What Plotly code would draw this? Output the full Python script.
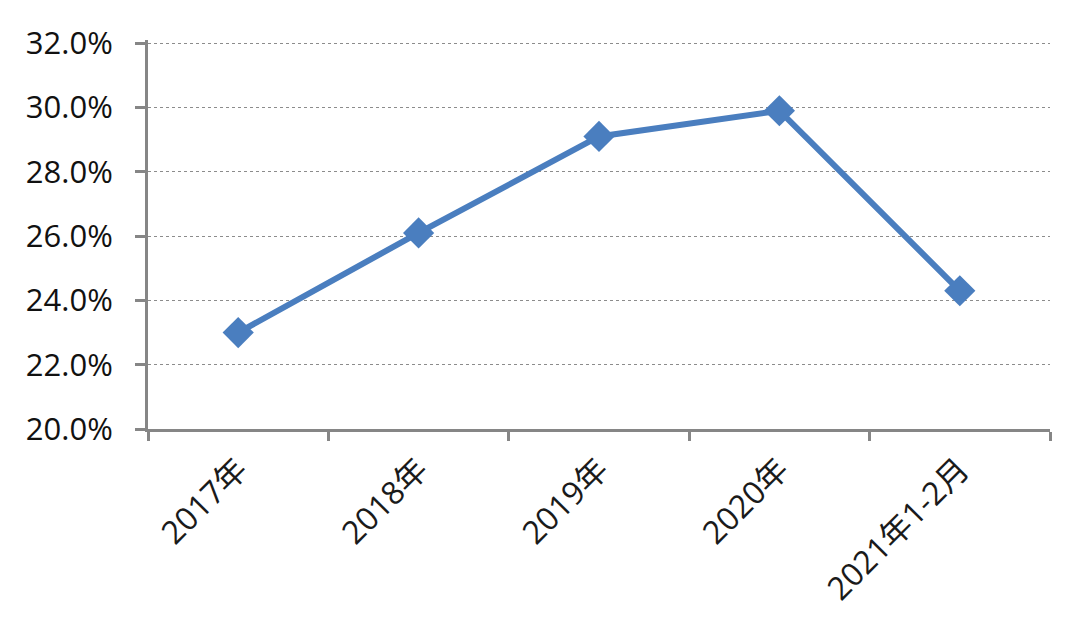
import plotly.graph_objects as go

categories = ["2017年", "2018年", "2019年", "2020年", "2021年1-2月"]
values = [0.230, 0.261, 0.291, 0.299, 0.243]
y_ticks = [0.20, 0.22, 0.24, 0.26, 0.28, 0.30, 0.32]

axis_color = "#868686"
line_color = "#4A7EBF"
font_fam = "Open Sans, Noto Sans CJK SC, sans-serif"

fig = go.Figure()
fig.add_trace(go.Scatter(
    x=categories, y=values, mode="lines+markers",
    line=dict(color=line_color, width=6),
    marker=dict(symbol="diamond", size=24, color=line_color),
    showlegend=False,
))

fig.update_layout(
    width=1080, height=633,
    margin=dict(l=140, r=38, t=32, b=212),
    paper_bgcolor="white", plot_bgcolor="white",
    font=dict(family=font_fam, color="#111111", size=29),
)
fig.update_xaxes(
    type="category", tickson="boundaries",
    range=[-0.5, len(categories) - 0.5],
    showline=True, linecolor=axis_color, linewidth=3,
    ticks="outside", ticklen=9, tickwidth=3, tickcolor=axis_color,
    tickangle=-45, tickfont=dict(size=32, family=font_fam, color="#1a1a1a"),
    ticklabelstandoff=6,
    showgrid=False,
)
fig.update_yaxes(
    range=[0.20, 0.3210], tickvals=y_ticks, tickformat=".1%",
    showline=True, linecolor=axis_color, linewidth=3,
    ticks="outside", ticklen=10, tickwidth=3, tickcolor=axis_color,
    showgrid=True, gridcolor="#8c8c8c", gridwidth=1, griddash="dot",
    zeroline=False, tickfont=dict(size=31, color="#111111"), ticklabelstandoff=16,
)

fig.write_html("out.html")
